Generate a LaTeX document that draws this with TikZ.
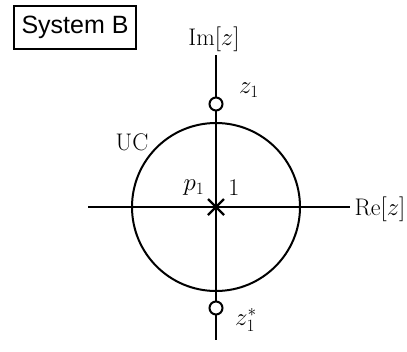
\documentclass[tikz,border=0pt]{standalone}
\usepackage{fontspec}
\newfontfamily\sansf{Liberation Sans}
\begin{document}
\begin{tikzpicture}[x=1pt,y=-1pt,
  axis/.style={line width=2pt},
  lbl/.style={inner sep=0pt,font=\fontsize{24}{28}\selectfont},
  zero/.style={circle,draw,line width=2pt,minimum size=13pt,inner sep=0pt}]
\useasboundingbox (0,0) rectangle (407,351);
\coordinate (O) at (216,207);
\coordinate (xl) at (88,207);
\coordinate (xr) at (350,207);
\coordinate (yt) at (216,55);
\coordinate (yb) at (216,340);
\draw[axis] (xl) -- (xr);
\draw[axis] (yt) -- (yb);
\draw[axis] (O) circle[radius=84];
\node[zero,fill=white] (z1) at (216,104) {};
\node[zero,fill=white] (z1s) at (216,308) {};
\draw[line width=2.2pt] (208,199) -- (224,215) (208,215) -- (224,199);
\node[lbl] (im) at (214,39) {$\mathrm{Im}[z]$};
\node[lbl] (re) at (380,209) {$\mathrm{Re}[z]$};
\node[lbl] (lz1) at (249,90) {$z_1$};
\node[lbl] (lz1s) at (246,320) {$z_1^*$};
\node[lbl] (uc) at (132,142) {UC};
\node[lbl] (p1) at (194,188) {$p_1$};
\node[lbl] (one) at (234,188) {1};
\node[draw,line width=2pt,minimum width=122pt,minimum height=43pt,inner sep=0pt,font=\sansf\fontsize{25}{28}\selectfont] (sys) at (75,27) {System B};
\end{tikzpicture}
\end{document}
